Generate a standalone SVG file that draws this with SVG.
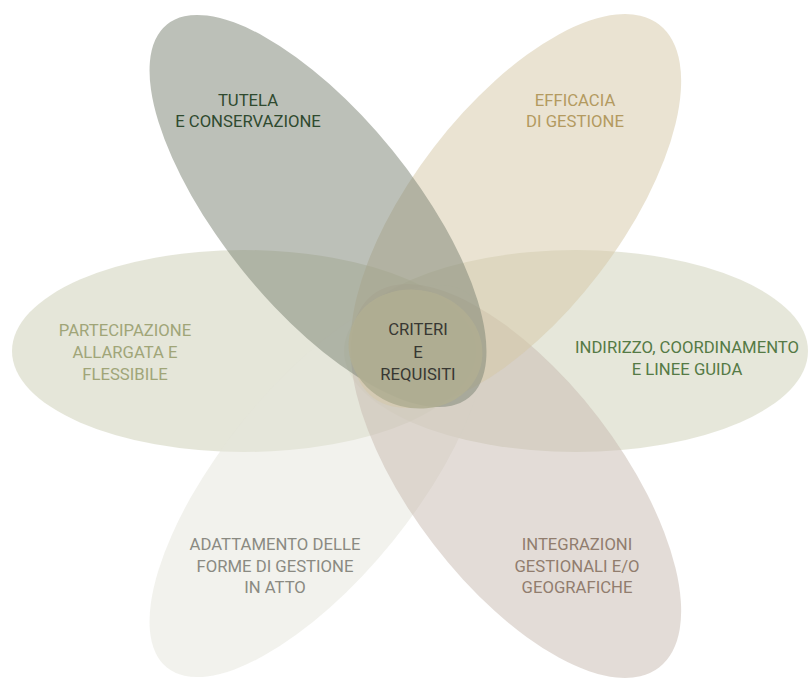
<svg xmlns="http://www.w3.org/2000/svg" width="812" height="680" viewBox="0 0 812 680">
<style>
.petal{fill-opacity:0.5}
text{font-family:Roboto,"Liberation Sans",sans-serif;font-size:16.7px;text-anchor:middle}
</style>
<rect width="812" height="680" fill="#ffffff"/>
<g id="petal-partecipazione">
<ellipse class="petal" cx="244" cy="351" rx="232" ry="101" fill="#cbcdb3"/>
</g>
<g id="petal-indirizzo">
<ellipse class="petal" cx="576" cy="351" rx="232" ry="101" fill="#cdcfb5"/>
</g>
<g id="petal-adattamento">
<ellipse class="petal" cx="318" cy="481" rx="240" ry="96" transform="rotate(-51 318 481)" fill="#e5e5db"/>
</g>
<g id="petal-integrazioni">
<ellipse class="petal" cx="516" cy="481" rx="235" ry="104" transform="rotate(52.5 516 481)" fill="#c7b9af"/>
</g>
<g id="petal-efficacia">
<ellipse class="petal" cx="516" cy="211" rx="235" ry="104" transform="rotate(-52.5 516 211)" fill="#d5c7a5"/>
</g>
<g id="petal-tutela">
<ellipse class="petal" cx="318" cy="211" rx="240" ry="96" transform="rotate(51 318 211)" fill="#798171"/>
</g>
<g id="center">
<ellipse cx="415.5" cy="349" rx="67.5" ry="59" transform="rotate(15 415.5 349)" fill="#b0ae92" fill-opacity="0.9"/>
<text fill="#373732"><tspan x="418" y="335">CRITERI</tspan><tspan x="418" y="358">E</tspan><tspan x="418" y="380">REQUISITI</tspan></text>
</g>
<g id="connectors"></g>
<g id="labels">
<text fill="#2f4a2f"><tspan x="248" y="106">TUTELA</tspan><tspan x="248" y="127">E CONSERVAZIONE</tspan></text>
<text fill="#b39a60"><tspan x="575" y="106">EFFICACIA</tspan><tspan x="575" y="127">DI GESTIONE</tspan></text>
<text fill="#a0a578"><tspan x="125" y="336">PARTECIPAZIONE</tspan><tspan x="125" y="358">ALLARGATA E</tspan><tspan x="125" y="380">FLESSIBILE</tspan></text>
<text fill="#557a45"><tspan x="687" y="353">INDIRIZZO, COORDINAMENTO</tspan><tspan x="687" y="375">E LINEE GUIDA</tspan></text>
<text fill="#8a8a82"><tspan x="275" y="550">ADATTAMENTO DELLE</tspan><tspan x="275" y="572">FORME DI GESTIONE</tspan><tspan x="275" y="593">IN ATTO</tspan></text>
<text fill="#917d6e"><tspan x="577" y="550">INTEGRAZIONI</tspan><tspan x="577" y="572">GESTIONALI E/O</tspan><tspan x="577" y="593">GEOGRAFICHE</tspan></text>
</g>
</svg>
